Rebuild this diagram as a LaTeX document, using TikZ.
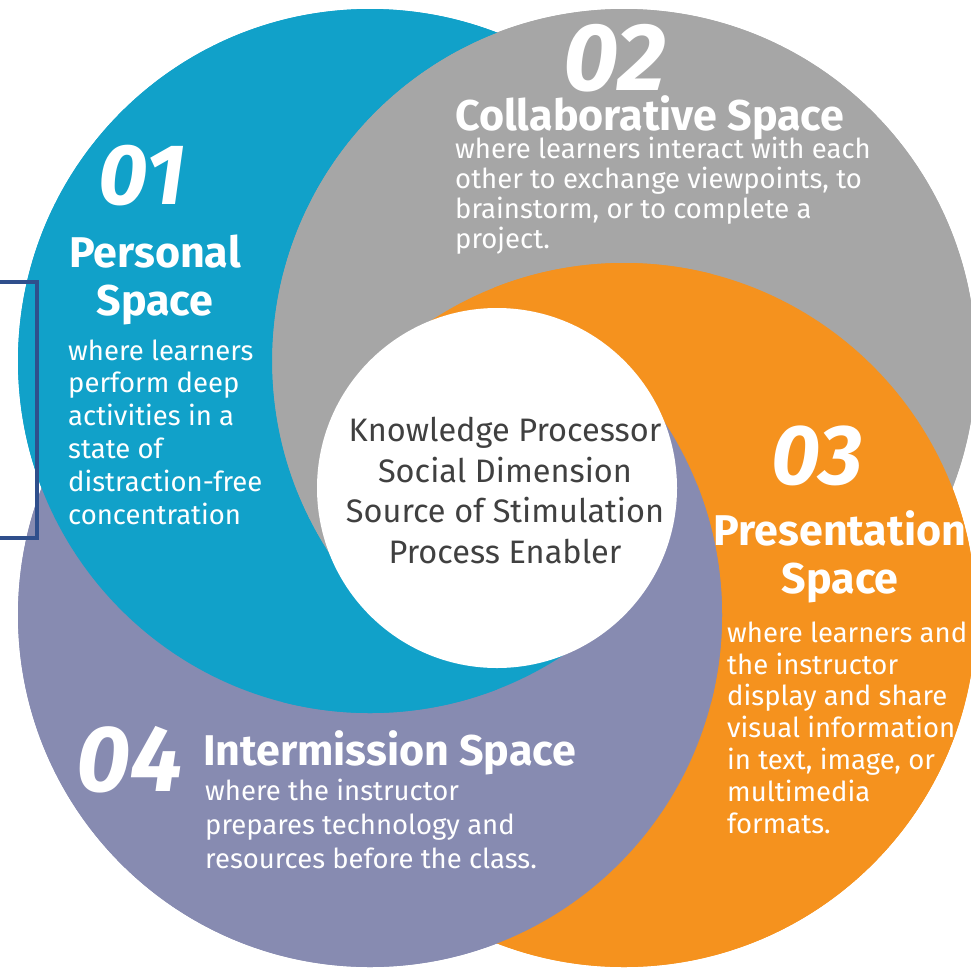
\documentclass[tikz,border=0pt]{standalone}
\usepackage{fontspec}
\setmainfont{Fira Sans}
\definecolor{sp0}{RGB}{17,161,201}
\definecolor{sp1}{RGB}{166,166,166}
\definecolor{sp2}{RGB}{245,146,30}
\definecolor{sp3}{RGB}{135,139,177}
\definecolor{spnavy}{RGB}{47,79,140}
\definecolor{sptext}{RGB}{64,64,64}
\begin{document}
\begin{tikzpicture}[x=1pt,y=-1pt,
		bignum/.style={font=\fontsize{90}{90}\selectfont\bfseries\itshape,text=white,inner sep=0pt},
		headtxt/.style={font=\fontsize{43}{48}\selectfont\bfseries,text=white,inner sep=0pt,align=center},
		bodytxt/.style={font=\fontsize{27.5}{32.8}\selectfont,text=white,inner sep=0pt,align=left},
		midtxt/.style={font=\fontsize{32.5}{40.5}\selectfont,text=sptext,inner sep=0pt,align=center}]
	\useasboundingbox (0,0) rectangle (971,970);
	\def\R{352}
	\path
	(370,361) coordinate (c0)
	(624,361) coordinate (c1)
	(624,615) coordinate (c2)
	(370,615) coordinate (c3)
	(497,488) coordinate (cw)
	;
	% base layer
	\foreach \j in {1,2,3,0} \fill[sp\j] (c\j) circle (\R);
	% each space: its circle minus the next one, plus its own quarter
	\foreach \k/\n/\cut/\ux/\uy/\vx/\vy in {1/2/350/-1000/1000/0/-2000,2/3/350/-1000/-1000/2000/0,3/0/350/1000/-1000/0/2000,0/1/352/1000/1000/-2000/0}{
		\begin{scope}[even odd rule]
			\clip (-100,-100) rectangle (1100,1100) (c\n) circle (\cut);
			\fill[sp\k] (c\k) circle (\R);
		\end{scope}
		\begin{scope}
			\clip (cw) -- ++(\ux,\uy) -- ++(\vx,\vy) -- cycle;
			\fill[sp\k] (c\k) circle (\R);
		\end{scope}
	}
	\fill[white] (cw) circle (180);
	\draw[spnavy,line width=4.5pt] (-5,282) -- (37,282) -- (37,538) -- (-5,538);
	
	\node[bignum,font=\fontsize{86}{86}\selectfont\bfseries\itshape] (n1) at (142,176) {01};
	\node[bignum,font=\fontsize{96}{96}\selectfont\bfseries\itshape] (n2) at (615,58) {02};
	\node[bignum,font=\fontsize{85}{85}\selectfont\bfseries\itshape] (n3) at (817,456) {03};
	\node[bignum,font=\fontsize{94}{94}\selectfont\bfseries\itshape] (n4) at (130,760) {04};
	
	\node[headtxt,anchor=base] (h1) at (155,315) {Personal\\Space};
	\node[headtxt,anchor=base west] (h2) at (455,130) {Collaborative Space};
	\node[headtxt,anchor=base] (h3) at (840,593) {Presentation\\Space};
	\node[headtxt,anchor=base west] (h4) at (203,765) {Intermission Space};
	
	\node[bodytxt,anchor=base west] (b1) at (68,524) {where learners\\perform deep\\activities in a\\state of\\distraction-free\\concentration};
	\node[bodytxt,anchor=base west,font=\fontsize{27.5}{30}\selectfont] (b2) at (455,248) {where learners interact with each\\other to exchange viewpoints, to\\brainstorm, or to complete a\\project.};
	\node[bodytxt,anchor=base west,font=\fontsize{27.5}{31.8}\selectfont] (b3) at (727,833) {where learners and\\the instructor\\display and share\\visual information\\in text, image, or\\multimedia\\formats.};
	\node[bodytxt,anchor=base west,font=\fontsize{27.5}{34}\selectfont] (b4) at (205,868) {where the instructor\\prepares technology and\\resources before the class.};
	
	\node[midtxt,anchor=base] (mid) at (505,563) {Knowledge Processor\\Social Dimension\\Source of Stimulation\\Process Enabler};
\end{tikzpicture}
\end{document}
